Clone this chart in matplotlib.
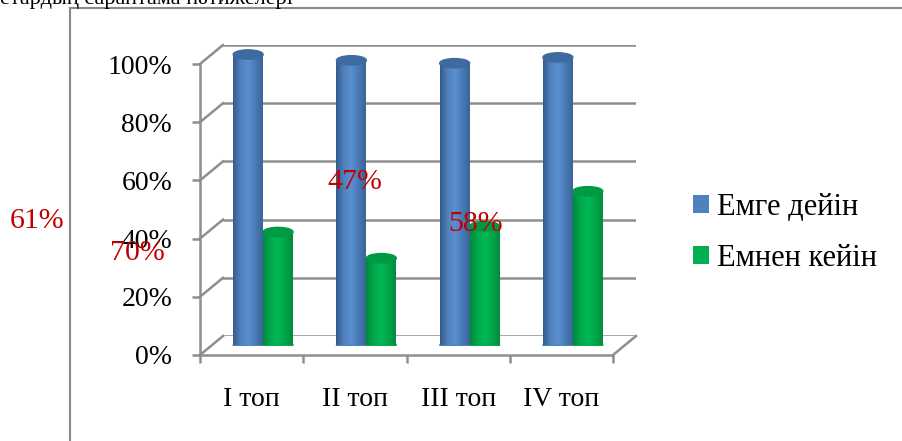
import matplotlib
matplotlib.use('Agg')
import matplotlib.pyplot as plt
import numpy as np
from matplotlib.patches import Ellipse
from matplotlib.lines import Line2D
from matplotlib.colors import LinearSegmentedColormap
from matplotlib.transforms import IdentityTransform

plt.rcParams['font.family'] = ['Liberation Serif', 'DejaVu Serif']

# data
groups = ['I топ', 'II топ', 'III топ', 'IV топ']
before = [100, 98, 97, 99]      # Емге дейін
after = [39, 30, 41, 53]        # Емнен кейін
series = ['Емге дейін', 'Емнен кейін']
yticks = [0, 20, 40, 60, 80, 100]
ytick_labels = ['0%', '20%', '40%', '60%', '80%', '100%']
stray_labels = ['61%', '70%', '47%', '58%']   # red numbers floating over the chart

W, H = 902, 441
fig = plt.figure(figsize=(W / 100, H / 100), dpi=100)

def box(left, bottom_px, width, height):
    # pixel box (top-left origin) -> figure fraction
    return [left / W, (H - bottom_px) / H, width / W, height / H]

grid_c = '#8e8e8e'

# back wall: gridlines only
ax_back = fig.add_axes(box(223, 336, 413, 291), zorder=0)
ax_back.set_xlim(-0.5, 3.5)
ax_back.set_ylim(0, 100)
ax_back.set_yticks(yticks)
ax_back.set_xticks([])
ax_back.grid(axis='y', color=grid_c, lw=1.8)
ax_back.tick_params(left=False, labelleft=False)
for s in ax_back.spines.values():
    s.set_visible(False)
ax_back.patch.set_visible(False)

# front plane: axis lines, ticks, labels
ax_front = fig.add_axes(box(200, 355, 413, 291), zorder=2)
ax_front.set_xlim(-0.5, 3.5)
ax_front.set_ylim(0, 100)
ax_front.set_yticks(yticks)
ax_front.set_yticklabels(ytick_labels, fontsize=20)
ax_front.set_xticks(np.arange(len(groups) + 1) - 0.5)
ax_front.set_xticklabels([])
ax_front.set_xticks(np.arange(len(groups)), minor=True)
ax_front.set_xticklabels(groups, minor=True, fontsize=20)
ax_front.tick_params(axis='y', direction='out', length=6, width=1.8, color=grid_c, pad=14)
ax_front.tick_params(axis='x', which='major', direction='out', length=6, width=1.8, color=grid_c)
ax_front.tick_params(axis='x', which='minor', length=0, pad=23)
for k in ['top', 'right']:
    ax_front.spines[k].set_visible(False)
for k in ['left', 'bottom']:
    ax_front.spines[k].set_color(grid_c)
    ax_front.spines[k].set_linewidth(1.8)
ax_front.patch.set_visible(False)

# middle plane: the cylinders
ax = fig.add_axes(box(211.5, 345.5, 413, 291), zorder=1)
ax.patch.set_visible(False)
ax.axis('off')

# depth lines joining front and back planes
fig.canvas.draw()
def depth_line(xv, yv):
    p0 = ax_front.transData.transform((xv, yv))
    p1 = ax_back.transData.transform((xv, yv))
    fig.add_artist(Line2D([p0[0], p1[0]], [p0[1], p1[1]], color=grid_c, lw=1.8,
                          transform=IdentityTransform(), zorder=0.5))
for v in yticks:
    depth_line(-0.5, v)
depth_line(3.5, 0)

bw = 0.29
x = np.arange(len(groups))
cmaps = [
    LinearSegmentedColormap.from_list('b', ['#355c8c', '#4f81bd', '#5b8fd0', '#4a7bb7', '#3a6597']),
    LinearSegmentedColormap.from_list('g', ['#008a3c', '#00a84c', '#00b853', '#00a54a', '#008c3d']),
]
base = ['#4f81bd', '#00b050']
tops = ['#3e6aa0', '#009a44']
ell_h = 3.2

for j, (vals, off) in enumerate([(before, -bw / 2), (after, bw / 2)]):
    bars = ax.bar(x + off, vals, bw, color=base[j], label=series[j], zorder=3)
    grad = np.linspace(0, 1, 64).reshape(1, -1)
    for r in bars:
        x0, w, h = r.get_x(), r.get_width(), r.get_height()
        ax.add_patch(Ellipse((x0 + w / 2, 0), w, ell_h, color=cmaps[j](0.5), zorder=2.5))
        im = ax.imshow(grad, extent=(x0, x0 + w, 0, h), cmap=cmaps[j], aspect='auto', zorder=3.1)
        im.set_clip_path(r)
        ax.add_patch(Ellipse((x0 + w / 2, h), w, ell_h, color=tops[j], zorder=3.2, clip_on=False))

ax.set_xlim(-0.5, 3.5)
ax.set_ylim(0, 100)

leg = ax.legend(loc='upper left', bbox_to_anchor=(693 / W, (H - 193) / H),
                bbox_transform=fig.transFigure, frameon=False, fontsize=22,
                handlelength=0.52, handleheight=0.52, handletextpad=0.26,
                labelspacing=0.72, borderpad=0, borderaxespad=0)

# page fragments around the chart
fig.add_artist(Line2D([70 / W, 70 / W], [0, (H - 8) / H], color='#8a8a8a', lw=1.5))
fig.add_artist(Line2D([70 / W, 1], [(H - 8) / H, (H - 8) / H], color='#8a8a8a', lw=1.5))
fig.text(0, (H - 4) / H, 'етардың сараптама нәтижелері', fontsize=16, va='baseline', ha='left')

red = '#c00000'
fig.text(37 / W, (H - 221) / H, stray_labels[0], color=red, fontsize=21.5, ha='center', va='center', zorder=5)
fig.text(137 / W, (H - 253) / H, stray_labels[1], color=red, fontsize=21.5, ha='center', va='center', zorder=5)
fig.text(355 / W, (H - 182) / H, stray_labels[2], color=red, fontsize=21.5, ha='center', va='center', zorder=5)
fig.text(475 / W, (H - 224) / H, stray_labels[3], color=red, fontsize=21.5, ha='center', va='center', zorder=5)

fig.savefig('out.png', dpi=100)
